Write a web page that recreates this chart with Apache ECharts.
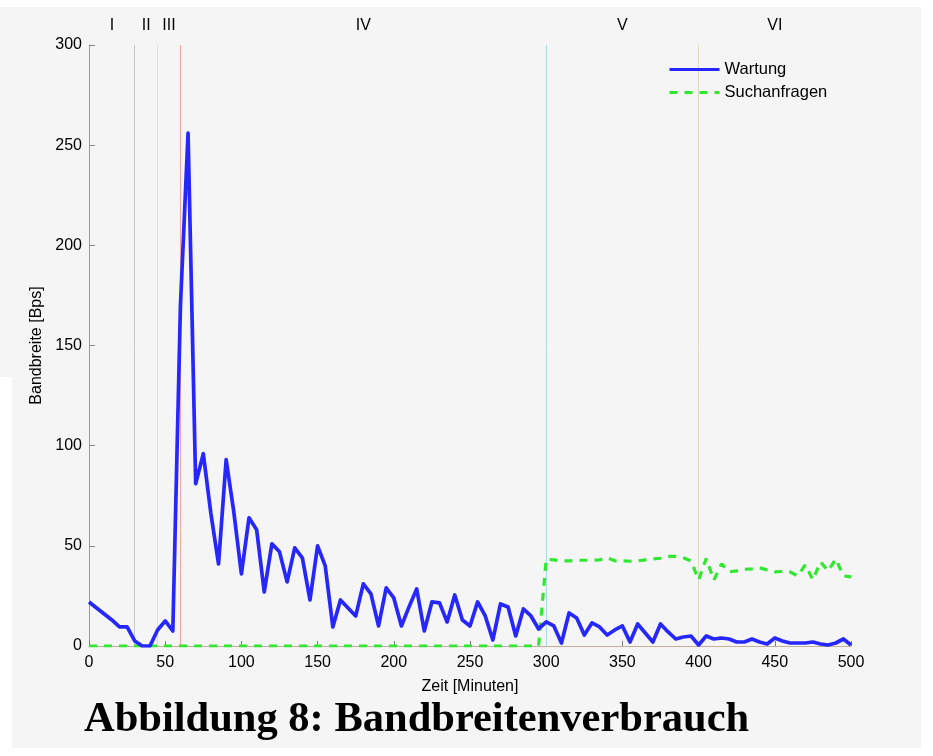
<!DOCTYPE html>
<html>
<head>
<meta charset="utf-8">
<script src="https://cdn.jsdelivr.net/npm/echarts@6/dist/echarts.min.js"></script>
<style>
  html, body { margin: 0; padding: 0; background: #ffffff; }
  #panel { position: absolute; left: 0; top: 7px; width: 921px; height: 741px; background: #f5f5f5; }
  #notch { position: absolute; left: 0; top: 377px; width: 12px; height: 379px; background: #ffffff; }
  #chart { position: absolute; left: 0; top: 0; width: 933px; height: 756px; }
</style>
</head>
<body>
<div id="panel"></div>
<div id="notch"></div>
<div id="chart"></div>
<script>
// Sampling times in minutes
const minutes = [
  0, 5, 10, 15, 20, 25, 30, 35, 40, 45, 50, 55, 60, 65, 70, 75, 80, 85, 90, 95,
  100, 105, 110, 115, 120, 125, 130, 135, 140, 145, 150, 155, 160, 165, 170, 175, 180, 185, 190, 195,
  200, 205, 210, 215, 220, 225, 230, 235, 240, 245, 250, 255, 260, 265, 270, 275, 280, 285, 290, 295,
  300, 305, 310, 315, 320, 325, 330, 335, 340, 345, 350, 355, 360, 365, 370, 375, 380, 385, 390, 395,
  400, 405, 410, 415, 420, 425, 430, 435, 440, 445, 450, 455, 460, 465, 470, 475, 480, 485, 490, 495,
  500
];

// Bandwidth of maintenance traffic [Bps]
const wartung = [
  22, 19, 16, 13, 9.5, 9.5, 2.5, 0, 0, 8, 12.5, 7.5, 170, 256, 81, 96, 66, 41, 93, 67,
  36, 64, 58, 27, 51, 47, 32, 49, 44, 23, 50, 40, 9.5, 23, 19, 15, 31, 26, 10, 29,
  24, 10, 19.5, 28.5, 7.5, 22, 21.5, 12, 25.5, 13, 10, 22, 15, 3, 21, 19.5, 5, 18.5, 15, 8.5,
  12, 10, 1.5, 16.5, 14, 5.5, 11.5, 9.5, 5.5, 8, 10, 2, 11, 6.5, 2, 11, 7, 3.5, 4.5, 5,
  0.5, 5, 3.5, 4, 3.5, 2, 2, 3.5, 2, 1, 4, 2.5, 1.5, 1.5, 1.5, 2, 1, 0.5, 1.5, 3.5,
  0.5
];

// Bandwidth of search queries [Bps]
const suchanfragen = [
  0, 0, 0, 0, 0, 0, 0, 0, 0, 0, 0, 0, 0, 0, 0, 0, 0, 0, 0, 0,
  0, 0, 0, 0, 0, 0, 0, 0, 0, 0, 0, 0, 0, 0, 0, 0, 0, 0, 0, 0,
  0, 0, 0, 0, 0, 0, 0, 0, 0, 0, 0, 0, 0, 0, 0, 0, 0, 0, 0, 0,
  43.3, 43, 42.5, 42.5, 42.8, 42.8, 42.8, 43, 44, 42.5, 42.5, 42.3, 42.5, 43, 43.5, 43.8, 44.7, 44.7, 44, 42.5,
  33, 43.7, 32.8, 41, 37, 37.5, 38.3, 38.5, 39, 38, 37, 37.2, 37, 35, 40.5, 33, 42, 37.5, 43.5, 35,
  34.5
];

// Phase boundaries (minutes) and the colours of their marker lines
const phaseBounds = [30, 45, 60, 300, 400];
const phaseColors = ['#c8c8c8', '#e4e0c8', '#f4a4a4', '#a8dcec', '#dcdcc2'];
// Phases I..VI with their start and end minutes
const phaseNames = ['I', 'II', 'III', 'IV', 'V', 'VI'];
const phaseStart = [0, 30, 45, 60, 300, 400];
const phaseEnd = [30, 45, 60, 300, 400, 500];

const xTicks = { min: 0, max: 500, interval: 50 };
const yTicks = { min: 0, max: 300, interval: 50 };

const pair = (ys) => minutes.map((t, i) => [t, ys[i]]);

const font = 'Liberation Sans, Arial, sans-serif';

const chart = echarts.init(document.getElementById('chart'), null, { renderer: 'canvas' });
chart.setOption({
  animation: false,
  backgroundColor: 'transparent',
  title: {
    text: 'Abbildung 8: Bandbreitenverbrauch',
    left: 84,
    top: 699,
    padding: 0,
    textStyle: {
      fontFamily: 'Liberation Serif, Times New Roman, serif',
      fontWeight: 'bold',
      fontSize: 42.5,
      color: '#000000'
    }
  },
  legend: {
    data: ['Wartung', 'Suchanfragen'],
    orient: 'vertical',
    left: 668,
    top: 61,
    itemWidth: 50,
    itemHeight: 16,
    itemGap: 6,
    padding: 0,
    itemStyle: { opacity: 0 },
    lineStyle: { width: 3 },
    textStyle: { fontFamily: font, fontSize: 16.5, color: '#000000', padding: [0, 0, 0, 0] }
  },
  grid: { left: 89, right: 82, top: 45, bottom: 110, containLabel: false },
  xAxis: {
    type: 'value',
    min: xTicks.min,
    max: xTicks.max,
    interval: xTicks.interval,
    name: 'Zeit [Minuten]',
    nameLocation: 'middle',
    nameGap: 33,
    nameTextStyle: { fontFamily: font, fontSize: 16, color: '#000000' },
    axisLine: { show: true, lineStyle: { color: '#c4ae98', width: 1 } },
    axisTick: { show: true, inside: true, length: 5, lineStyle: { color: '#7a7a7a' } },
    axisLabel: { fontFamily: font, fontSize: 16, color: '#000000', margin: 9 },
    splitLine: { show: false }
  },
  yAxis: {
    type: 'value',
    min: yTicks.min,
    max: yTicks.max,
    interval: yTicks.interval,
    name: 'Bandbreite [Bps]',
    nameLocation: 'middle',
    nameGap: 44,
    nameTextStyle: { fontFamily: font, fontSize: 16, color: '#000000' },
    axisLine: { show: true, lineStyle: { color: '#9a9a9a', width: 1 } },
    axisTick: { show: true, inside: true, length: 6, lineStyle: { color: '#8a8a8a' } },
    axisLabel: { fontFamily: font, fontSize: 16, color: '#000000', margin: 7 },
    splitLine: { show: false }
  },
  series: [
    {
      name: 'Suchanfragen',
      type: 'line',
      data: pair(suchanfragen),
      symbol: 'none',
      showSymbol: false,
      z: 3,
      lineStyle: { color: '#2fe82f', width: 3.2, type: [8, 7] },
      itemStyle: { color: '#2fe82f' }
    },
    {
      name: 'Wartung',
      type: 'line',
      data: pair(wartung),
      symbol: 'none',
      showSymbol: false,
      z: 4,
      lineStyle: { color: '#2626ff', width: 3.7, join: 'round' },
      itemStyle: { color: '#2626ff' },
      markLine: {
        silent: true,
        symbol: ['none', 'none'],
        label: { show: false },
        z: 1,
        data: phaseBounds.map((b, i) => ({
          xAxis: b,
          lineStyle: { color: phaseColors[i], width: 1, type: 'solid' }
        }))
      },
      markArea: {
        silent: true,
        z: 1,
        itemStyle: { color: 'rgba(0,0,0,0)' },
        label: {
          show: true,
          position: 'top',
          distance: 11,
          fontFamily: font,
          fontSize: 16,
          color: '#000000'
        },
        data: phaseNames.map((n, i) => [
          { name: n, xAxis: phaseStart[i] },
          { xAxis: phaseEnd[i] }
        ])
      }
    }
  ]
});
</script>
</body>
</html>
